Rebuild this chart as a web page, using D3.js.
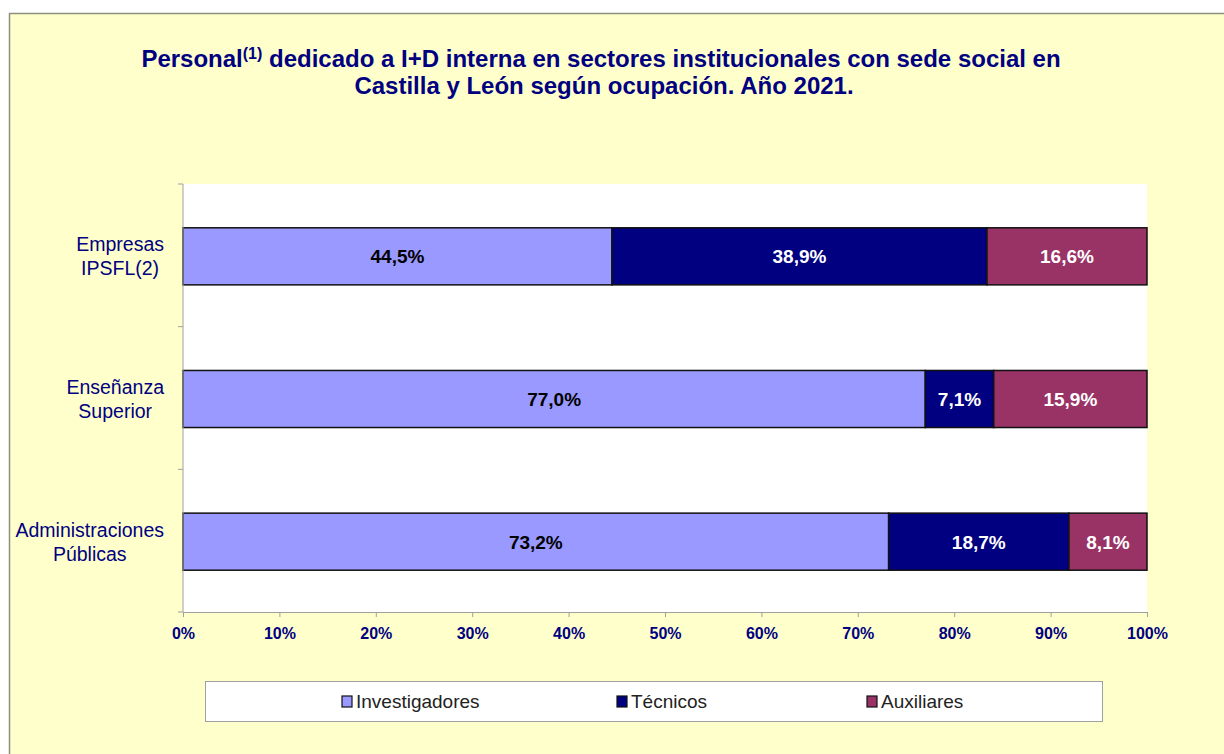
<!DOCTYPE html>
<html>
<head>
<meta charset="utf-8">
<script src="https://cdn.jsdelivr.net/npm/d3@7"></script>
<style>
    body { margin: 0; background: #fff; }
    text { font-family: "Liberation Sans", Arial, sans-serif; }
</style>
</head>
<body>
<div id="chart"></div>
<script>
var categories = ['Empresas\nIPSFL(2)', 'Enseñanza\nSuperior', 'Administraciones\nPúblicas'];
var seriesNames = ['Investigadores', 'Técnicos', 'Auxiliares'];
var investigadores = [44.5, 77.0, 73.2];
var tecnicos = [38.9, 7.1, 18.7];
var auxiliares = [16.6, 15.9, 8.1];
var tickValues = [0, 10, 20, 30, 40, 50, 60, 70, 80, 90, 100];

var colors = ['#9999ff', '#000080', '#993366'];
var labelColors = ['#000', '#fff', '#fff'];
var navy = '#000080';

var width = 1224, height = 754;
var plot = { left: 183, right: 1147, top: 184, bottom: 612 };

var svg = d3.select('#chart').append('svg')
    .attr('width', width)
    .attr('height', height);

// chart area frame
svg.append('rect')
    .attr('x', 9.5).attr('y', 13.5)
    .attr('width', width + 10).attr('height', height + 10)
    .style('fill', '#ffffcc')
    .style('stroke', '#8f8f80')
    .style('stroke-width', 1.5);

// title
var title = svg.append('text')
    .attr('text-anchor', 'middle')
    .style('font-weight', 'bold')
    .style('font-size', '24px')
    .style('fill', navy);
var line1 = title.append('tspan').attr('x', 601).attr('y', 67);
line1.append('tspan').text('Personal');
line1.append('tspan').text('(1)').attr('dy', -8).style('font-size', '16px');
line1.append('tspan').text(' dedicado a I+D interna en sectores institucionales con sede social en').attr('dy', 8);
title.append('tspan').attr('x', 604).attr('y', 94).text('Castilla y León según ocupación. Año 2021.');

// plot area
svg.append('rect')
    .attr('x', plot.left).attr('y', plot.top)
    .attr('width', plot.right - plot.left)
    .attr('height', plot.bottom - plot.top)
    .style('fill', '#fff');

var x = d3.scaleLinear().domain([0, 100]).range([plot.left, plot.right]);
var y = d3.scaleBand().domain(categories).range([plot.top, plot.bottom])
    .paddingInner(0.6).paddingOuter(0.3);
var yEdges = d3.scaleLinear().domain([0, categories.length]).range([plot.top, plot.bottom]);

// stacked data
var rows = categories.map(function (c, i) {
    return { cat: c, values: [investigadores[i], tecnicos[i], auxiliares[i]] };
});
var segments = [];
rows.forEach(function (r) {
    var start = 0;
    r.values.forEach(function (v, s) {
        segments.push({ cat: r.cat, series: s, x0: start, x1: start + v, value: v });
        start += v;
    });
});

svg.selectAll('.bar')
    .data(segments)
    .enter().append('rect')
    .attr('class', 'bar')
    .attr('x', function (d) { return x(d.x0); })
    .attr('y', function (d) { return y(d.cat) + 1; })
    .attr('width', function (d) { return x(d.x1) - x(d.x0); })
    .attr('height', y.bandwidth())
    .style('fill', function (d) { return colors[d.series]; })
    .style('stroke', '#111')
    .style('stroke-width', 1.5);

svg.selectAll('.barLabel')
    .data(segments)
    .enter().append('text')
    .attr('class', 'barLabel')
    .attr('x', function (d) { return x((d.x0 + d.x1) / 2); })
    .attr('y', function (d) { return y(d.cat) + y.bandwidth() / 2 + 8; })
    .attr('text-anchor', 'middle')
    .style('font-weight', 'bold')
    .style('font-size', '19px')
    .style('fill', function (d) { return labelColors[d.series]; })
    .text(function (d) { return d.value.toFixed(1).replace('.', ',') + '%'; });

// x axis
var xAxis = svg.append('g')
    .attr('transform', 'translate(0,' + plot.bottom + ')')
    .call(d3.axisBottom(x).tickValues(tickValues).tickSize(5).tickSizeOuter(0)
        .tickFormat(function (d) { return d + '%'; }));
xAxis.select('.domain').style('stroke', '#a0a0a0');
xAxis.selectAll('.tick line').style('stroke', '#a0a0a0');
xAxis.selectAll('.tick text')
    .attr('dy', '1.2em')
    .style('font-family', '"Liberation Sans", Arial, sans-serif')
    .style('font-size', '16px')
    .style('font-weight', 'bold')
    .style('fill', navy);

// y axis
svg.append('line')
    .attr('x1', plot.left).attr('x2', plot.left)
    .attr('y1', plot.top).attr('y2', plot.bottom)
    .style('stroke', '#a0a0a0');
svg.selectAll('.yTick')
    .data(d3.range(categories.length + 1))
    .enter().append('line')
    .attr('class', 'yTick')
    .attr('x1', plot.left - 5).attr('x2', plot.left)
    .attr('y1', function (d) { return yEdges(d); })
    .attr('y2', function (d) { return yEdges(d); })
    .style('stroke', '#a0a0a0');

var catLabels = svg.selectAll('.catLabel')
    .data(categories)
    .enter().append('text')
    .attr('class', 'catLabel')
    .attr('text-anchor', 'middle')
    .style('font-size', '19.5px')
    .style('fill', navy);
catLabels.each(function (c) {
    var lines = c.split('\n');
    var cy = y(c) + y.bandwidth() / 2;
    var t = d3.select(this);
    var spans = lines.map(function (l, i) {
        return t.append('tspan')
            .attr('y', cy - 4 + i * 24)
            .text(l);
    });
    var maxW = d3.max(spans, function (s) { return s.node().getComputedTextLength(); });
    spans.forEach(function (s) { s.attr('x', 164 - maxW / 2); });
});

// legend
var legend = svg.append('g');
legend.append('rect')
    .attr('x', 205.5).attr('y', 681.5)
    .attr('width', 897).attr('height', 40)
    .style('fill', '#fff')
    .style('stroke', '#a0a0a0');
var legendX = [342, 617, 867];
var items = legend.selectAll('.legendItem')
    .data(seriesNames)
    .enter().append('g')
    .attr('class', 'legendItem')
    .attr('transform', function (d, i) { return 'translate(' + legendX[i] + ',701)'; });
items.append('rect')
    .attr('x', 0).attr('y', -5)
    .attr('width', 10).attr('height', 11)
    .style('fill', function (d, i) { return colors[i]; })
    .style('stroke', '#111')
    .style('stroke-width', 1.2);
items.append('text')
    .attr('x', 14).attr('y', 7)
    .style('font-size', '19px')
    .style('fill', '#222')
    .text(function (d) { return d; });
</script>
</body>
</html>
